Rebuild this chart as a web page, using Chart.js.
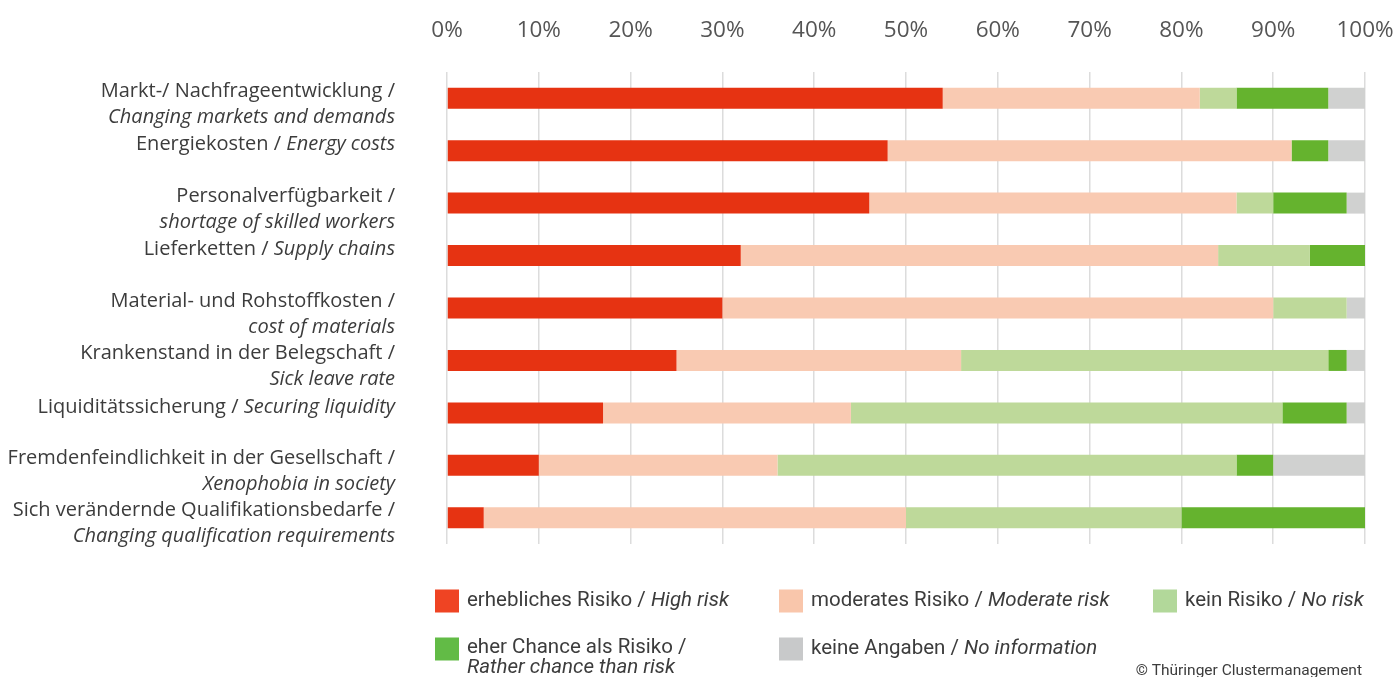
<!DOCTYPE html>
<html>
<head>
<meta charset="utf-8">
<script src="https://cdn.jsdelivr.net/npm/chart.js@4"></script>
<style>
  html, body { margin: 0; padding: 0; background: #fff; }
  #wrap { width: 1397px; height: 677px; position: relative; }
</style>
</head>
<body>
<div id="wrap"><canvas id="c"></canvas></div>
<script>
// ---- Data ----
const categoriesDe = [
  "Markt-/ Nachfrageentwicklung",
  "Energiekosten",
  "Personalverfügbarkeit",
  "Lieferketten",
  "Material- und Rohstoffkosten",
  "Krankenstand in der Belegschaft",
  "Liquiditätssicherung",
  "Fremdenfeindlichkeit in der Gesellschaft",
  "Sich verändernde Qualifikationsbedarfe"
];
const categoriesEn = [
  "Changing markets and demands",
  "Energy costs",
  "shortage of skilled workers",
  "Supply chains",
  "cost of materials",
  "Sick leave rate",
  "Securing liquidity",
  "Xenophobia in society",
  "Changing qualification requirements"
];
const twoLineLabel = [true, false, true, false, true, true, false, true, true];

const seriesDe = ["erhebliches Risiko", "moderates Risiko", "kein Risiko", "eher Chance als Risiko", "keine Angaben"];
const seriesEn = ["High risk", "Moderate risk", "No risk", "Rather chance than risk", "No information"];

const highRisk     = [54, 48, 46, 32, 30, 25, 17, 10, 4];
const moderateRisk = [28, 44, 40, 52, 60, 31, 27, 26, 46];
const noRisk       = [4, 0, 4, 10, 8, 40, 47, 50, 30];
const ratherChance = [10, 4, 8, 6, 0, 2, 7, 4, 20];
const noInfo       = [4, 4, 2, 0, 2, 2, 2, 10, 0];

const tickValues = [0, 10, 20, 30, 40, 50, 60, 70, 80, 90, 100];
const copyright = "© Thüringer Clustermanagement";

// ---- Styles ----
const colors = ["#E63312", "#F9CAB2", "#BED99A", "#65B32E", "#D0D1D0"];
const legendColors = ["#EF4423", "#F9C6AB", "#B2D89A", "#62BB46", "#C8C9CA"];
const textColor = "#3c3c3c";
const labelFont = "'Open Sans', sans-serif";
const legendFont = "Roboto, 'Open Sans', sans-serif";

const seriesValues = [highRisk, moderateRisk, noRisk, ratherChance, noInfo];

function drawMixed(ctx, x, y, normal, italic, size, family, weight, align) {
  ctx.font = weight + " " + size + "px " + family;
  const wN = ctx.measureText(normal).width;
  ctx.font = "italic " + weight + " " + size + "px " + family;
  const wI = ctx.measureText(italic).width;
  const start = align === "right" ? x - wN - wI : x;
  ctx.textAlign = "left";
  ctx.font = weight + " " + size + "px " + family;
  ctx.fillText(normal, start, y);
  ctx.font = "italic " + weight + " " + size + "px " + family;
  ctx.fillText(italic, start + wN, y);
}

const labelPlugin = {
  id: "labelPlugin",
  afterDraw(chart) {
    const ctx = chart.ctx;
    const y = chart.scales.y;
    ctx.save();
    ctx.fillStyle = textColor;
    ctx.textBaseline = "middle";
    const rightX = chart.chartArea.left - 52;
    const size = 20;
    const w = 400;
    categoriesDe.forEach((de, i) => {
      const cy = y.getPixelForValue(i);
      if (twoLineLabel[i]) {
        ctx.font = w + " " + size + "px " + labelFont;
        ctx.textAlign = "right";
        ctx.fillText(de + " /", rightX, cy - 7);
        ctx.font = "italic " + w + " " + size + "px " + labelFont;
        ctx.fillText(categoriesEn[i], rightX, cy + 19);
      } else {
        drawMixed(ctx, rightX, cy - 6, de + " / ", categoriesEn[i], size, labelFont, w, "right");
      }
    });

    // Legend
    const items = [
      [435, 601], [779, 601], [1153, 601], [435, 649], [779, 649]
    ];
    const lsize = 20.5;
    seriesDe.forEach((de, i) => {
      const [lx, ly] = items[i];
      ctx.fillStyle = legendColors[i];
      ctx.fillRect(lx, ly - 11.5, 24, 23);
      ctx.fillStyle = textColor;
      ctx.textBaseline = "middle";
      if (i === 3) {
        ctx.font = "400 " + lsize + "px " + legendFont;
        ctx.textAlign = "left";
        ctx.fillText(de + " /", lx + 32, ly - 1);
        ctx.font = "italic 400 " + lsize + "px " + legendFont;
        ctx.fillText(seriesEn[i], lx + 32, ly + 19);
      } else {
        drawMixed(ctx, lx + 32, ly, de + " / ", seriesEn[i], lsize, legendFont, 400, "left");
      }
    });

    ctx.font = "400 15.5px " + legendFont;
    ctx.textAlign = "right";
    ctx.fillStyle = textColor;
    ctx.fillText(copyright, 1362, 671);
    ctx.restore();
  }
};

new Chart(document.getElementById("c"), {
  type: "bar",
  data: {
    labels: categoriesDe,
    datasets: seriesDe.map((name, i) => ({
      label: name + " / " + seriesEn[i],
      data: seriesValues[i],
      backgroundColor: colors[i],
      borderWidth: 0,
      barPercentage: 0.8,
      categoryPercentage: 0.5
    }))
  },
  options: {
    indexAxis: "y",
    responsive: true,
    maintainAspectRatio: false,
    animation: false,
    layout: { padding: { left: 447, right: 32, top: 0, bottom: 133 } },
    plugins: { legend: { display: false }, tooltip: { enabled: false } },
    scales: {
      x: {
        position: "top",
        stacked: true,
        min: 0,
        max: 100,
        afterBuildTicks: (s) => { s.ticks = tickValues.map(v => ({ value: v })); },
        afterFit: (s) => { s.height = 72; s.paddingLeft = 0; s.paddingRight = 0; },
        ticks: {
          callback: (v) => v + "%",
          color: "#555",
          font: { family: labelFont, size: 22.5, weight: 400 },
          padding: 28,
          maxRotation: 0
        },
        grid: { color: "#dcdcdc", lineWidth: 1.5, drawTicks: false },
        border: { display: false }
      },
      y: {
        stacked: true,
        display: false
      }
    }
  },
  plugins: [labelPlugin]
});
</script>
</body>
</html>
